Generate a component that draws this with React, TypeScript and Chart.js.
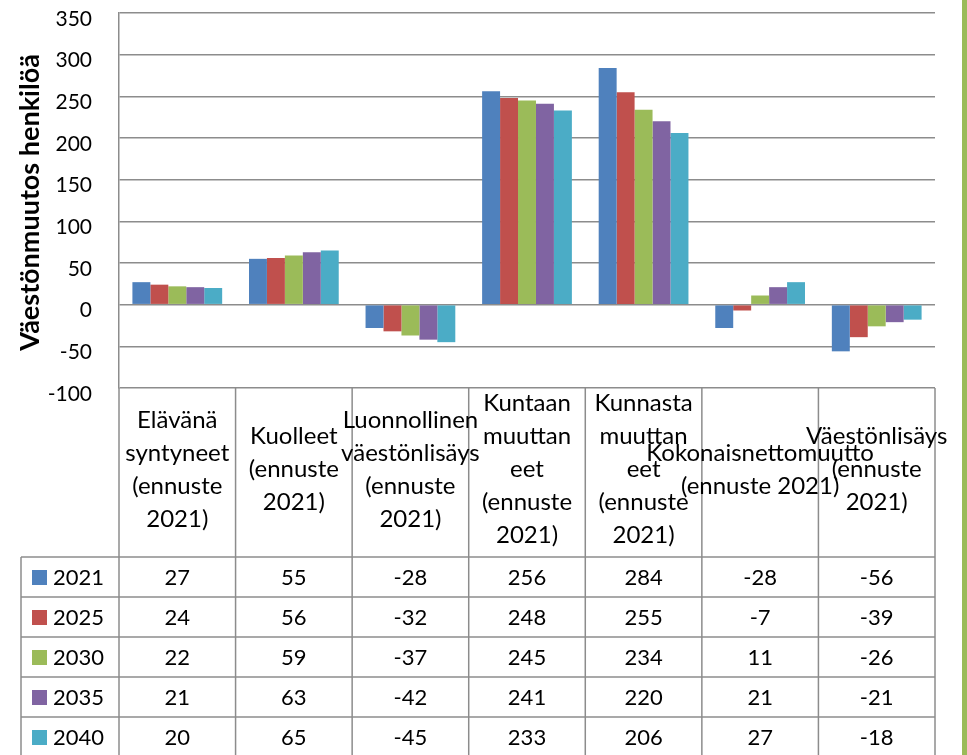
import React, { useEffect, useRef } from "react";
import { Chart, registerables } from "chart.js";

Chart.register(...registerables);

// ---- data ----
const categoryLabels: string[][] = [
  ["Elävänä", "syntyneet", "(ennuste", "2021)"],
  ["Kuolleet", "(ennuste", "2021)"],
  ["Luonnollinen", "väestönlisäys", "(ennuste", "2021)"],
  ["Kuntaan", "muuttan", "eet", "(ennuste", "2021)"],
  ["Kunnasta", "muuttan", "eet", "(ennuste", "2021)"],
  ["Kokonaisnettomuutto", "(ennuste 2021)"],
  ["Väestönlisäys", "(ennuste", "2021)"],
];
const seriesNames = ["2021", "2025", "2030", "2035", "2040"];
const values2021 = [27, 55, -28, 256, 284, -28, -56];
const values2025 = [24, 56, -32, 248, 255, -7, -39];
const values2030 = [22, 59, -37, 245, 234, 11, -26];
const values2035 = [21, 63, -42, 241, 220, 21, -21];
const values2040 = [20, 65, -45, 233, 206, 27, -18];
const seriesColors = ["#4F81BD", "#C0504D", "#9BBB59", "#8064A2", "#4BACC6"];
const yMin = -100;
const yMax = 350;
const yStep = 50;
const yAxisTitle = "Väestönmuutos henkilöä";

const allSeries = [values2021, values2025, values2030, values2035, values2040];

const FONT = "Lato, 'Open Sans', sans-serif";
const LINE = "#8c8c8c";

const tablePlugin = {
  id: "dataTable",
  afterDraw(chart: any) {
    const ctx: CanvasRenderingContext2D = chart.ctx;
    const area = chart.chartArea;
    const xs = chart.scales.x;
    const n = categoryLabels.length;
    const centers = categoryLabels.map((_, i) => xs.getPixelForValue(i));
    const bounds: number[] = [area.left];
    for (let i = 1; i < n; i++) bounds.push((centers[i - 1] + centers[i]) / 2);
    bounds.push(area.right);

    const headerTop = area.bottom;
    const headerBottom = headerTop + 169;
    const rowH = 40;
    const tableBottom = headerBottom + rowH * seriesNames.length;
    const legendLeft = 21;

    ctx.save();
    ctx.strokeStyle = LINE;
    ctx.lineWidth = 1.5;
    for (const b of bounds) {
      ctx.beginPath();
      ctx.moveTo(b, headerTop);
      ctx.lineTo(b, tableBottom);
      ctx.stroke();
    }
    ctx.beginPath();
    ctx.moveTo(legendLeft, headerBottom);
    ctx.lineTo(legendLeft, tableBottom);
    ctx.stroke();
    for (let r = 0; r <= seriesNames.length; r++) {
      const y = headerBottom + r * rowH;
      ctx.beginPath();
      ctx.moveTo(legendLeft, y);
      ctx.lineTo(area.right, y);
      ctx.stroke();
    }

    // header labels
    ctx.fillStyle = "#000";
    ctx.font = `24px ${FONT}`;
    ctx.textAlign = "center";
    ctx.textBaseline = "middle";
    const lh = 33;
    const midY = (headerTop + headerBottom) / 2 - 3;
    categoryLabels.forEach((lines, i) => {
      const start = midY - ((lines.length - 1) * lh) / 2;
      lines.forEach((t, k) => ctx.fillText(t, centers[i], start + k * lh));
    });

    // rows
    ctx.font = `22px ${FONT}`;
    seriesNames.forEach((name, r) => {
      const cy = headerBottom + r * rowH + rowH / 2 + 1;
      ctx.fillStyle = seriesColors[r];
      ctx.fillRect(legendLeft + 11, cy - 8, 15, 15);
      ctx.fillStyle = "#000";
      ctx.textAlign = "left";
      ctx.fillText(name, legendLeft + 32, cy);
      ctx.textAlign = "center";
      allSeries[r].forEach((v, i) => ctx.fillText(String(v), centers[i], cy));
    });

    // y-axis title
    ctx.save();
    ctx.translate(30, (area.top + area.bottom) / 2 + 2);
    ctx.rotate(-Math.PI / 2);
    ctx.font = `bold 27px ${FONT}`;
    ctx.textAlign = "center";
    ctx.textBaseline = "middle";
    ctx.fillStyle = "#000";
    ctx.fillText(yAxisTitle, 0, 0);
    ctx.restore();

    ctx.restore();
  },
};

export default function App() {
  const canvasRef = useRef<HTMLCanvasElement | null>(null);

  useEffect(() => {
    let chart: Chart | null = null;
    let cancelled = false;
    const make = () => {
      if (cancelled || !canvasRef.current) return;
      chart = new Chart(canvasRef.current, {
        type: "bar",
        data: {
          labels: categoryLabels.map((l) => l.join(" ")),
          datasets: seriesNames.map((name, i) => ({
            label: name,
            data: allSeries[i],
            backgroundColor: seriesColors[i],
            borderWidth: 0,
            categoryPercentage: 0.77,
            barPercentage: 1.0,
          })),
        },
        options: {
          animation: false,
          responsive: true,
          maintainAspectRatio: false,
          layout: { padding: { left: 0, top: 13, right: 32, bottom: 367 } },
          plugins: { legend: { display: false }, tooltip: { enabled: false } },
          scales: {
            x: { display: false, grid: { display: false } },
            y: {
              min: yMin,
              max: yMax,
              ticks: {
                stepSize: yStep,
                color: "#000",
                font: { family: FONT, size: 21 },
                padding: 0,
                labelOffset: 6,
              },
              grid: {
                color: LINE,
                lineWidth: 1.5,
                drawTicks: true,
                tickLength: 27,
                tickColor: "rgba(0,0,0,0)",
              },
              border: { color: LINE, width: 1.5 },
              afterFit: (s: any) => {
                s.width = 119;
              },
            } as any,
          },
        },
        plugins: [tablePlugin],
      });
    };
    const fonts: any = (document as any).fonts;
    if (fonts && fonts.load) {
      Promise.all([fonts.load(`22px Lato`), fonts.load(`bold 27px Lato`)]).then(make, make);
    } else make();
    return () => {
      cancelled = true;
      if (chart) chart.destroy();
    };
  }, []);

  return (
    <div style={{ position: "absolute", left: 0, top: 0, width: 967, height: 755, background: "#fff", overflow: "hidden" }}>
      <canvas ref={canvasRef} />
      <div style={{ position: "absolute", left: 962, top: 0, width: 5, height: 755, background: "#9BBB59" }} />
    </div>
  );
}
